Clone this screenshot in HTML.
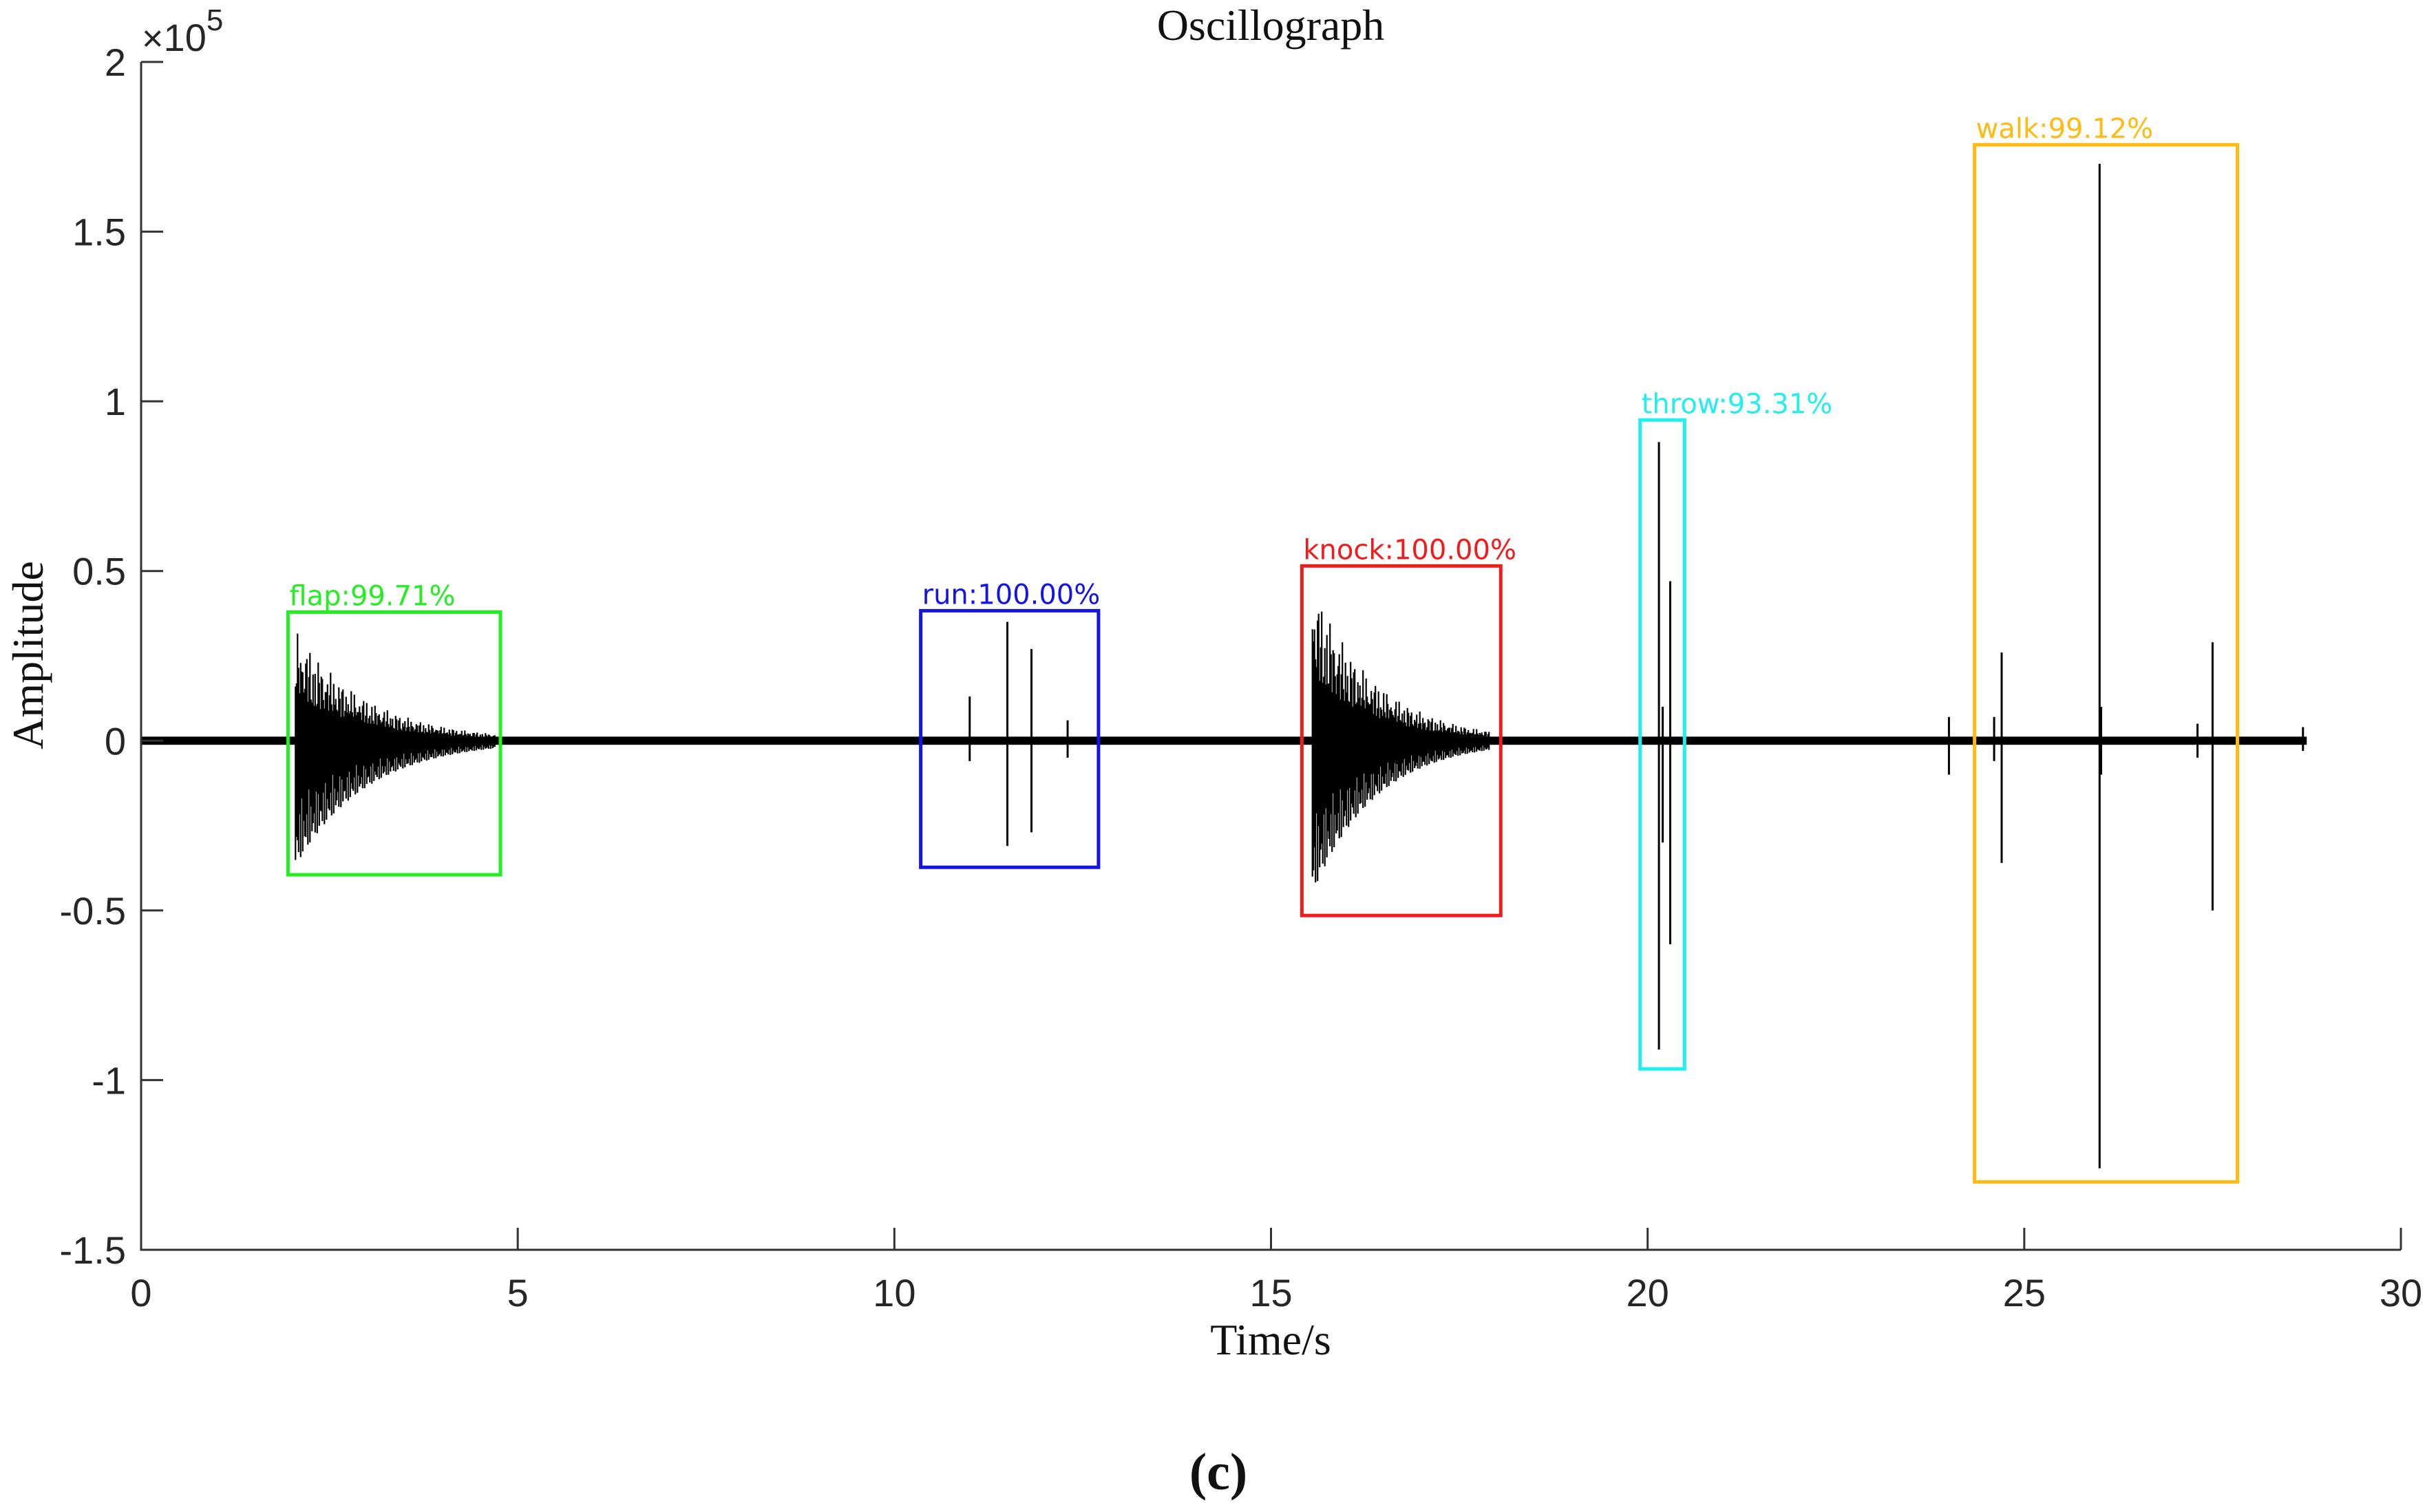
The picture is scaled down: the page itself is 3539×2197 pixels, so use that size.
<!DOCTYPE html>
<html><head><meta charset="utf-8"><style>
html,body{margin:0;padding:0;background:#fff;}
svg{display:block;}
.tk{font-family:"Liberation Sans",sans-serif;font-size:56px;fill:#262626;}
.sf{font-family:"Liberation Serif",serif;fill:#111;}
.lb{font-family:"DejaVu Sans","Liberation Sans",sans-serif;font-size:40px;}
</style></head><body>
<svg id="chart" width="3539" height="2197" viewBox="0 0 3539 2197" xmlns="http://www.w3.org/2000/svg">
<g id="marks"></g>
<g id="axes"></g>
<text class="sf" x="1846" y="58" font-size="64" text-anchor="middle">Oscillograph</text>
<text class="sf" x="1846" y="1968" font-size="64" text-anchor="middle">Time/s</text>
<text class="sf" x="62" y="952" font-size="64" text-anchor="middle" transform="rotate(-90 62 952)">Amplitude</text>
<text class="sf" x="1770" y="2164" font-size="76" font-weight="bold" text-anchor="middle">(c)</text>
<text class="tk" x="206" y="74" font-size="64"><tspan font-size="54">×</tspan>10<tspan font-size="44" dy="-30">5</tspan></text>
</svg>
<script>
// data (amplitude in units of 1e5)
const xTicks = [0,5,10,15,20,25,30];
const yTicks = [2,1.5,1,0.5,0,-0.5,-1,-1.5];
const yTickLabels = ["2","1.5","1","0.5","0","-0.5","-1","-1.5"];
const boxLabels = ["flap:99.71%","run:100.00%","knock:100.00%","throw:93.31%","walk:99.12%"];
const boxColors = ["#22ee22","#1414e6","#ee1c1c","#22eeee","#ffbb11"];
const boxT0 = [1.95,10.35,15.41,19.9,24.34];
const boxT1 = [4.77,12.71,18.05,20.49,27.83];
const boxTop = [0.379,0.383,0.515,0.945,1.756];
const boxBottom = [-0.395,-0.373,-0.515,-0.967,-1.30];
// decaying bursts: start time, end time, peak up, peak down
const burstStart = [2.05,15.55];
const burstEnd = [4.7,17.9];
const burstUp = [0.33,0.47];
const burstDown = [-0.37,-0.45];
// isolated spikes
const spikeT = [11.0,11.5,11.82,12.3,20.15,20.3,20.2,24.0,24.7,24.6,26.0,26.02,27.5,27.3,28.7];
const spikeUp = [0.13,0.35,0.27,0.06,0.88,0.47,0.1,0.07,0.26,0.07,1.7,0.1,0.29,0.05,0.04];
const spikeDown = [-0.06,-0.31,-0.27,-0.05,-0.91,-0.6,-0.3,-0.1,-0.36,-0.06,-1.26,-0.1,-0.5,-0.05,-0.03];
const signalEnd = 28.75;

const X0=205,X1=3488,Y0=90,Y1=1816;
const xs=t=>X0+(t-0)/(30-0)*(X1-X0);
const ys=a=>Y0+(2-a)/(2-(-1.5))*(Y1-Y0);
const NS="http://www.w3.org/2000/svg";
function mk(tag,attrs,parent){const e=document.createElementNS(NS,tag);for(const k in attrs)e.setAttribute(k,attrs[k]);parent.appendChild(e);return e;}
const marks=document.getElementById('marks'),axes=document.getElementById('axes');

// baseline
let base=mk('rect',{x:xs(0),y:ys(0.012),width:xs(signalEnd)-xs(0),height:ys(-0.012)-ys(0.012),fill:'#000'},marks);



// bursts
let d='';
for(let b=0;b<burstStart.length;b++){
  const t0=burstStart[b],t1=burstEnd[b],p0=xs(t0),p1=xs(t1);
  for(let px=p0;px<=p1;px+=1.5){
    const f=(px-p0)/(p1-p0);
    const env=Math.exp(-2.8*f);
    const k=0.4+0.6*Math.abs(Math.sin(px*1.37)*Math.cos(px*0.53));
    d+=`M${px.toFixed(1)} ${ys(burstUp[b]*env*k).toFixed(1)}V${ys(burstDown[b]*env*(0.45+0.55*Math.abs(Math.sin(px*0.91)))).toFixed(1)}`;
  }
}
let bp=mk('path',{d:d,stroke:'#000','stroke-width':2.2,fill:'none'},marks);



// spikes
for(let i=0;i<spikeT.length;i++){
  let s=mk('line',{x1:xs(spikeT[i]),x2:xs(spikeT[i]),y1:ys(spikeUp[i]),y2:ys(spikeDown[i]),stroke:'#000','stroke-width':3},marks);
  
  
}

// boxes
for(let i=0;i<boxLabels.length;i++){
  let r=mk('rect',{x:xs(boxT0[i]),y:ys(boxTop[i]),width:xs(boxT1[i])-xs(boxT0[i]),height:ys(boxBottom[i])-ys(boxTop[i]),fill:'none',stroke:boxColors[i],'stroke-width':5},marks);
  
  
  let t=mk('text',{x:xs(boxT0[i])+2,y:ys(boxTop[i])-10,fill:boxColors[i],class:'lb'},marks);
  t.textContent=boxLabels[i];
  
  
}

// axes
let ax=mk('path',{d:`M${X0} ${Y0}V${Y1}H${X1}`,stroke:'#333','stroke-width':3,fill:'none'},axes);


xTicks.forEach(v=>{
  let l=mk('line',{x1:xs(v),x2:xs(v),y1:Y1,y2:Y1-32,stroke:'#333','stroke-width':3},axes);
  
  
  let t=mk('text',{x:xs(v),y:Y1+82,class:'tk','text-anchor':'middle'},axes);
  t.textContent=String(v);
  
  
});
yTicks.forEach((v,i)=>{
  let l=mk('line',{x1:X0,x2:X0+32,y1:ys(v),y2:ys(v),stroke:'#333','stroke-width':3},axes);
  
  
  let t=mk('text',{x:X0-22,y:ys(v)+20,class:'tk','text-anchor':'end'},axes);
  t.textContent=yTickLabels[i];
  
  
});
</script>
</body></html>
